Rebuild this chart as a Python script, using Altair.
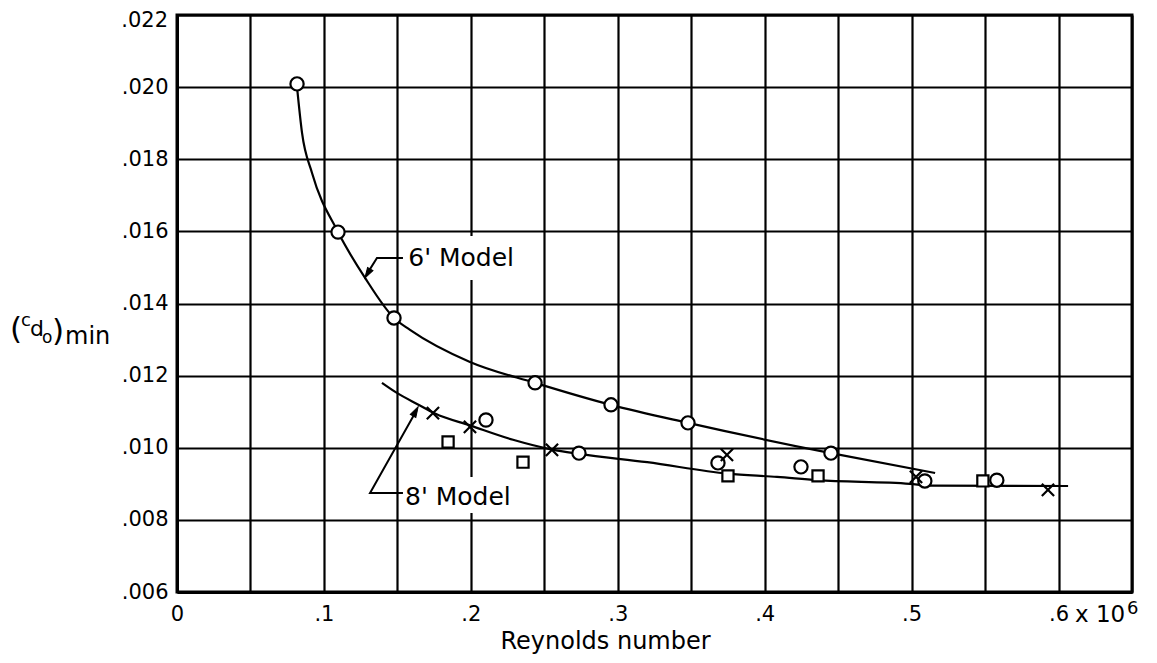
import altair as alt
import pandas as pd

FONT = "DejaVu Sans"

# ---------------- data ----------------
# 6' model: measured points (open circles)
six_pts_x = [0.0817, 0.1096, 0.1477, 0.2437, 0.2954, 0.3478, 0.4451]
six_pts_y = [0.02009, 0.01598, 0.0136, 0.0118, 0.01119, 0.01069, 0.00985]

# 6' model faired curve
six_curve_x = [0.0817, 0.0851, 0.0919, 0.1096, 0.128, 0.1477, 0.1586, 0.1994,
               0.2437, 0.2954, 0.3478, 0.4451, 0.516]
six_curve_y = [0.0200, 0.01873, 0.01762, 0.01598, 0.01471, 0.0136, 0.01327, 0.01238,
               0.0118, 0.01119, 0.01069, 0.00985, 0.0093]

# 8' model: three symbol series
eight_circ_x = [0.2103, 0.2736, 0.3682, 0.4247, 0.509, 0.558]
eight_circ_y = [0.01077, 0.00985, 0.00958, 0.00947, 0.00908, 0.0091]
eight_cross_x = [0.1742, 0.1994, 0.2552, 0.3743, 0.503, 0.5928]
eight_cross_y = [0.01096, 0.01058, 0.00994, 0.0098, 0.00919, 0.00883]
eight_sq_x = [0.1845, 0.2355, 0.375, 0.4363, 0.5485]
eight_sq_y = [0.01016, 0.0096, 0.00922, 0.00922, 0.00908]

# 8' model faired curve
eight_curve_x = [0.1395, 0.1497, 0.164, 0.1756, 0.1994, 0.2287, 0.2552, 0.2736, 0.32,
                 0.375, 0.4084, 0.4356, 0.4989, 0.5126, 0.6065]
eight_curve_y = [0.0118, 0.01152, 0.0112, 0.01095, 0.01062, 0.01022, 0.00995, 0.00983, 0.0096,
                 0.00928, 0.00919, 0.0091, 0.009, 0.00895, 0.00894]

# axis ticks / grid
x_ticks = [0, 0.05, 0.1, 0.15, 0.2, 0.25, 0.3, 0.35, 0.4, 0.45, 0.5, 0.55, 0.6, 0.65]
y_ticks = [0.006, 0.008, 0.010, 0.012, 0.014, 0.016, 0.018, 0.020, 0.022]
top_label = [".022"]
top_value = [0.022]

# annotations (data units)
labels = ["6' Model", "8' Model"]
label_x = [0.1574, 0.1552]
label_y = [0.01526, 0.008634]
box_x = [0.1555, 0.1535]
box_x2 = [0.2350, 0.2340]
box_y = [0.01465, 0.00819]
box_y2 = [0.01587, 0.00919]
leader6_x = [0.1538, 0.1361, 0.1290]
leader6_y = [0.01526, 0.01526, 0.01480]
leader8_x = [0.1538, 0.1314, 0.1630]
leader8_y = [0.008745, 0.008745, 0.01103]
head_x = [0.1297, 0.1624]
head_y = [0.01483, 0.01101]
head_angle = [211, 29]

# ---------------- encodings ----------------
X_SCALE = alt.Scale(domain=[0, 0.65], nice=False, zero=False)
Y_SCALE = alt.Scale(domain=[0.006, 0.022], nice=False, zero=False)

X_AXIS = alt.Axis(
    values=x_ticks,
    labelExpr="datum.value == 0 ? '0' : ((round(datum.value * 20) % 2 == 0 && datum.value < 0.62) ? replace(format(datum.value, '.1f'), '0.', '.') : '')",
    grid=True, gridColor="black", gridWidth=2.2, gridOpacity=1,
    ticks=False, domain=True, domainColor="black", domainWidth=3,
    labelFont=FONT, labelFontSize=21, labelColor="black", labelPadding=11,
    labelFlush=False,
    title="Reynolds number", titleFont=FONT, titleFontSize=24,
    titleFontWeight="normal", titleColor="black",
    titleX=428, titleY=56, titleBaseline="alphabetic", titleAlign="center",
)
Y_AXIS = alt.Axis(
    values=y_ticks,
    labelExpr="datum.value > 0.0215 ? '' : replace(format(datum.value, '.3f'), '0.', '.')",
    grid=True, gridColor="black", gridWidth=2.2, gridOpacity=1,
    ticks=False, domain=True, domainColor="black", domainWidth=3,
    labelFont=FONT, labelFontSize=21, labelColor="black", labelPadding=9,
    labelFlush=False, title="",
)


def X(field="x"):
    return alt.X(f"{field}:Q", scale=X_SCALE, axis=X_AXIS)


def Y(field="y"):
    return alt.Y(f"{field}:Q", scale=Y_SCALE, axis=Y_AXIS)


layers = []

# white boxes behind the annotation text (grid lines are broken there)
boxes = pd.DataFrame({"x": box_x, "x2": box_x2, "y": box_y, "y2": box_y2})
layers.append(alt.Chart(boxes).mark_rect(fill="white").encode(
    x=X(), x2="x2:Q", y=Y(), y2="y2:Q"))

# faired curves
for cx, cy in [(six_curve_x, six_curve_y), (eight_curve_x, eight_curve_y)]:
    df = pd.DataFrame({"x": cx, "y": cy})
    layers.append(alt.Chart(df).mark_line(color="black", strokeWidth=2.2,
                                          interpolate="monotone").encode(x=X(), y=Y()))

# leader lines
for lx, ly in [(leader6_x, leader6_y), (leader8_x, leader8_y)]:
    df = pd.DataFrame({"x": lx, "y": ly, "o": list(range(len(lx)))})
    layers.append(alt.Chart(df).mark_line(color="black", strokeWidth=2).encode(
        x=X(), y=Y(), order="o:Q"))

# arrow heads
for hx, hy, ha in zip(head_x, head_y, head_angle):
    df = pd.DataFrame({"x": [hx], "y": [hy]})
    layers.append(alt.Chart(df).mark_point(
        shape="M0,-1L0.6,1L-0.6,1Z", filled=True, fill="black", stroke="black",
        strokeWidth=1, size=110, angle=ha, opacity=1).encode(x=X(), y=Y()))

# symbols
circles = pd.DataFrame({"x": six_pts_x + eight_circ_x, "y": six_pts_y + eight_circ_y})
layers.append(alt.Chart(circles).mark_point(
    shape="circle", filled=True, fill="white", stroke="black", strokeWidth=2.2,
    size=175, opacity=1).encode(x=X(), y=Y()))

squares = pd.DataFrame({"x": eight_sq_x, "y": eight_sq_y})
layers.append(alt.Chart(squares).mark_point(
    shape="square", filled=True, fill="white", stroke="black", strokeWidth=2.2,
    size=125, opacity=1).encode(x=X(), y=Y()))

crosses = pd.DataFrame({"x": eight_cross_x, "y": eight_cross_y})
layers.append(alt.Chart(crosses).mark_point(
    shape="M-1,-1L1,1M-1,1L1,-1", filled=False, stroke="black", strokeWidth=2.2,
    size=150, opacity=1).encode(x=X(), y=Y()))

# model labels
lab = pd.DataFrame({"x": label_x, "y": label_y, "t": labels})
layers.append(alt.Chart(lab).mark_text(
    align="left", baseline="middle", font=FONT, fontSize=25, color="black").encode(
    x=X(), y=Y(), text="t:N"))

# top y label, nudged down so it stays inside the page as in the reference
top = pd.DataFrame({"y": top_value, "t": top_label})
layers.append(alt.Chart(top).mark_text(
    align="right", baseline="middle", font=FONT, fontSize=21, color="black", dy=6).encode(
    x=alt.value(-9), y=Y(), text="t:N"))

# y-axis title  (c_d0)min  built from pieces (pixel offsets from plot origin)
one = pd.DataFrame({"k": [0]})
y_title_parts = [
    ("(", -167, 324, 31),
    ("c", -156, 311, 18),
    ("d", -147, 321, 22),
    ("o", -135, 328, 17),
    (")", -125, 326, 31),
    ("min", -112, 329, 24),
]
for txt, px, py, fs in y_title_parts:
    layers.append(alt.Chart(one).mark_text(
        text=txt, align="left", baseline="alphabetic", font=FONT, fontSize=fs,
        color="black").encode(x=alt.value(px), y=alt.value(py)))

# "x 10^6" multiplier next to the .6 label
for txt, px, py, fs in [("x 10", 898, 607, 23), ("6", 950, 599, 18)]:
    layers.append(alt.Chart(one).mark_text(
        text=txt, align="left", baseline="alphabetic", font=FONT, fontSize=fs,
        color="black").encode(x=alt.value(px), y=alt.value(py)))

chart = alt.layer(*layers).properties(
    width=955, height=577,
    autosize=alt.AutoSizeParams(type="none"),
    padding={"left": 169, "top": 7, "right": 17, "bottom": 63},
    background="white",
).configure_view(stroke="black", strokeWidth=3)

chart.save("out.html", embed_options={"renderer": "svg", "actions": False})
